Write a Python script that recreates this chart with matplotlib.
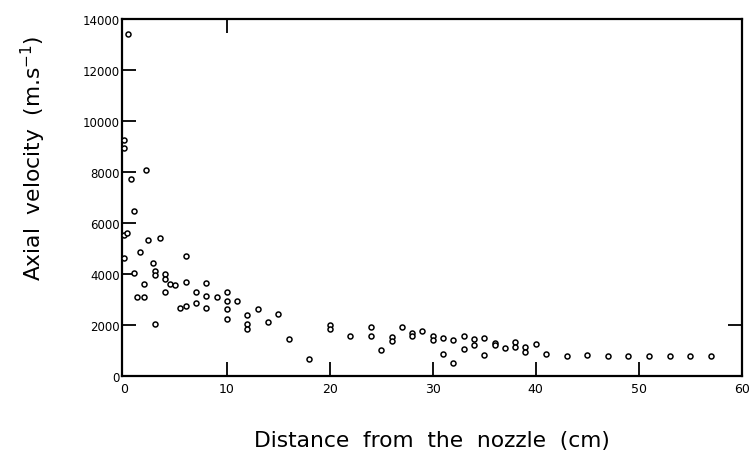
import matplotlib
matplotlib.use("Agg")
import matplotlib.pyplot as plt

# Distance from the nozzle (cm)
distance = [0.4, 0, 0, 2.2, 0.7, 1, 0, 0.3, 0.05, 1, 1.6, 2, 1.3, 2, 2.3, 2.8,
            3, 3, 3, 3.5, 4, 4, 4, 4.5, 5, 5.5, 6, 6, 6, 7, 7, 8, 8, 8, 9,
            10, 10, 10, 10, 11, 12, 12, 12, 13, 14, 15, 16, 18, 20, 20,
            22, 24, 24, 25, 26, 26, 27, 28, 28, 29, 30, 30, 31, 31, 32, 32,
            33, 33, 34, 34, 35, 35, 36, 36, 37, 38, 38, 39, 39, 40, 41,
            43, 45, 47, 49, 51, 53, 55, 57]
# Axial velocity (m/s)
velocity = [13400, 9250, 8950, 8070, 7720, 6460, 5500, 5580, 4600, 4040, 4850,
            3600, 3080, 3100, 5320, 4420, 4120, 3950, 2020, 5390, 3990, 3790,
            3270, 3600, 3570, 2640, 4700, 3680, 2740, 3280, 2860, 3620, 3120,
            2650, 3100, 3290, 2910, 2600, 2230, 2940, 2380, 2010, 1840, 2600,
            2090, 2400, 1430, 650, 2000, 1840,
            1560, 1890, 1560, 1010, 1510, 1355, 1905, 1660, 1540, 1740, 1560,
            1380, 1485, 845, 1380, 505, 1540, 1055, 1435, 1210, 1485, 815,
            1265, 1210, 1090, 1305, 1110, 1130, 925, 1225, 855,
            775, 815, 780, 780, 780, 755, 755, 780]

x_ticks = [0, 10, 20, 30, 40, 50, 60]
y_ticks = [0, 2000, 4000, 6000, 8000, 10000, 12000, 14000]

plt.rcParams['font.family'] = ['DejaVu Sans']

fig = plt.figure(figsize=(7.52, 4.56), dpi=100)
ax = fig.add_axes([122.3 / 752, 1 - 376.5 / 456, (741.7 - 122.3) / 752, (376.5 - 20) / 456])

ax.plot(distance, velocity, linestyle='none', marker='o', markersize=3.6,
        markerfacecolor='white', markeredgecolor='black', markeredgewidth=1.1,
        clip_on=False, zorder=3)

ax.set_xlim(-0.15, 60)
ax.set_ylim(0, 14000)
ax.set_xticks(x_ticks)
ax.set_yticks(y_ticks)
ax.set_xticklabels([str(v) for v in x_ticks], fontsize=9)
ax.set_yticklabels([str(v) for v in y_ticks], fontsize=8.5)

for s in ax.spines.values():
    s.set_linewidth(1.6)
    s.set_color('black')

ax.tick_params(axis='both', direction='in', length=10, width=1.3, colors='black',
               top=True, right=True)
ax.tick_params(axis='x', pad=5)
ax.tick_params(axis='y', pad=2)

for t, v in zip(ax.xaxis.get_major_ticks(), x_ticks):
    t.tick2line.set_visible(v == 10)
    if v in (0, 60):
        t.tick1line.set_visible(False)
for t, v in zip(ax.yaxis.get_major_ticks(), y_ticks):
    t.tick2line.set_visible(v == 2000)
    if v in (0, 14000):
        t.tick1line.set_visible(False)

ax.set_xlabel('Distance  from  the  nozzle  (cm)', fontsize=15.7)
ax.xaxis.set_label_coords(0.5, (376.5 - 441) / 356.5)
ax.set_ylabel(r'Axial  velocity  (m.s$^{\mathregular{-1}}$)', fontsize=15.7)
ax.yaxis.set_label_coords((33 - 122.3) / 619.4, (376.5 - 158) / 356.5)
ax.xaxis.label.set_verticalalignment('center')
ax.yaxis.label.set_verticalalignment('center')

fig.savefig('out.png', dpi=100)
